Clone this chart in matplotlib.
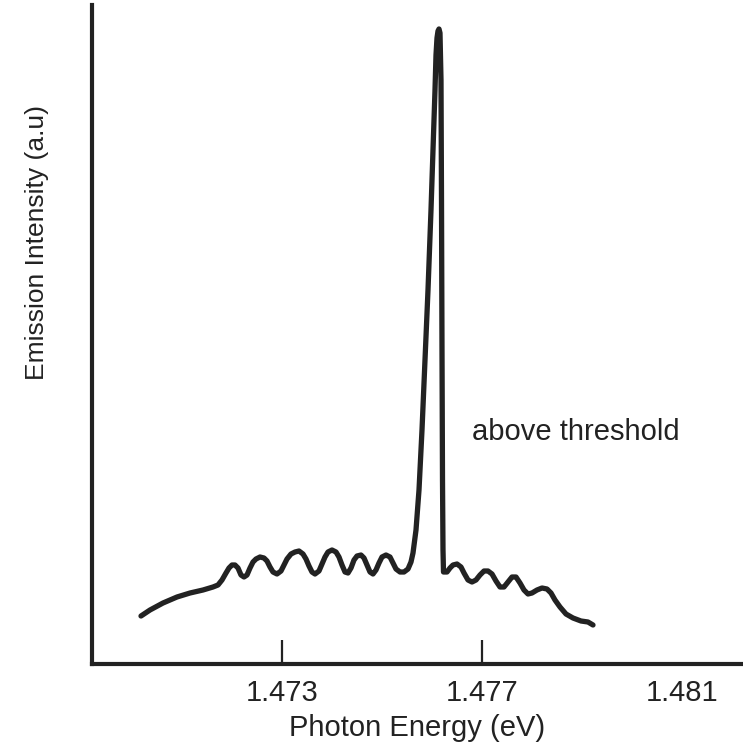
import matplotlib
matplotlib.use("Agg")
import matplotlib.pyplot as plt
from matplotlib.ticker import FixedLocator, NullFormatter

plt.rcParams['font.family'] = ['Liberation Sans', 'DejaVu Sans']

# Photon energy (eV)
energy_rise = [1.47018, 1.47036, 1.47062, 1.47090, 1.47116, 1.47142]
energy_ripples = [
    1.47162, 1.47172, 1.47180, 1.47188, 1.47194, 1.47200, 1.47206, 1.47212, 1.47218, 1.47224,
    1.47230, 1.47236, 1.47242, 1.47248, 1.47256, 1.47264, 1.47270, 1.47276, 1.47282, 1.47290,
    1.47298, 1.47304, 1.47310, 1.47318, 1.47326, 1.47334, 1.47342, 1.47348, 1.47354, 1.47360,
    1.47366, 1.47374, 1.47380, 1.47386, 1.47392, 1.47400, 1.47408, 1.47414, 1.47420, 1.47426,
    1.47432, 1.47438, 1.47444, 1.47450, 1.47458, 1.47464, 1.47470, 1.47476, 1.47482, 1.47488,
    1.47494, 1.47500, 1.47508, 1.47516, 1.47522, 1.47528, 1.47536, 1.47544, 1.47552, 1.47558,
    1.47562,
]
energy_peak = [
    1.47568, 1.47574, 1.47580, 1.47586, 1.47592, 1.47598, 1.47602, 1.47606, 1.47608, 1.47610,
    1.47612, 1.47614, 1.47616, 1.47618, 1.47619, 1.47620, 1.47621, 1.47622, 1.47623,
]
energy_tail = [
    1.47630, 1.47636, 1.47642, 1.47650, 1.47658, 1.47664, 1.47672, 1.47680, 1.47688, 1.47696,
    1.47704, 1.47712, 1.47720, 1.47728, 1.47736, 1.47744, 1.47752, 1.47760, 1.47768, 1.47776,
    1.47784, 1.47792, 1.47800, 1.47810, 1.47820, 1.47830, 1.47838, 1.47846, 1.47856, 1.47868,
    1.47882, 1.47898, 1.47912, 1.47922,
]

# Emission intensity (a.u.)
intensity_rise = [48, 54, 61, 67, 71, 74]
intensity_ripples = [
    77, 79, 84, 91, 96, 99, 99, 96, 89, 87,
    89, 96, 102, 105, 107, 106, 103, 97, 92, 90,
    93, 99, 105, 110, 112, 113, 110, 105, 98, 92,
    90, 93, 100, 107, 112, 114, 112, 107, 99, 92,
    91, 96, 104, 108, 109, 106, 99, 92, 90, 94,
    101, 107, 109, 107, 101, 95, 92, 92, 95, 102,
    111,
]
intensity_peak = [
    134, 174, 234, 304, 374, 454, 514, 574, 609, 626,
    633, 635, 631, 584, 464, 314, 184, 114, 92,
]
intensity_tail = [
    92, 96, 99, 100, 97, 91, 84, 82, 84, 89,
    93, 93, 90, 83, 77, 77, 82, 87, 87, 81,
    74, 70, 71, 74, 76, 75, 71, 64, 57, 50,
    46, 43, 42, 39,
]

energy = energy_rise + energy_ripples + energy_peak + energy_tail
intensity = intensity_rise + intensity_ripples + intensity_peak + intensity_tail

tick_values = [1.473, 1.477, 1.481]
tick_labels = ["1.473", "1.477", "1.481"]
marked_ticks = [1.473, 1.477]

ink = "#222222"

fig = plt.figure(figsize=(7.43, 7.45), dpi=100)
ax = fig.add_axes([92 / 743, 81 / 745, 651 / 743, 659 / 745])

ax.plot(energy, intensity, color=ink, lw=3.8, solid_capstyle='round', solid_joinstyle='round')

ax.set_xlim(1.4692, 1.48222)
ax.set_ylim(0, 659)

for s in ['top', 'right']:
    ax.spines[s].set_visible(False)
for s in ['left', 'bottom']:
    ax.spines[s].set_linewidth(3)
    ax.spines[s].set_color(ink)

ax.xaxis.remove_overlapping_locs = False
ax.set_xticks(tick_values)
ax.set_xticklabels(tick_labels)
ax.xaxis.set_minor_locator(FixedLocator(marked_ticks))
ax.xaxis.set_minor_formatter(NullFormatter())
ax.tick_params(axis='x', which='major', length=0, pad=11, labelsize=21, labelcolor=ink)
ax.tick_params(axis='x', which='minor', direction='in', length=17, width=1.6, color=ink)
ax.set_yticks([])

ax.set_xlabel("Photon Energy (eV)", fontsize=21, color=ink)
ax.xaxis.set_label_coords(0.499, -0.097)
ax.xaxis.label.set_va('center')
ax.set_ylabel("Emission Intensity (a.u)", fontsize=19, color=ink)
ax.yaxis.set_label_coords(-0.0845, 0.639)
ax.yaxis.label.set_va('center')

ax.text(1.4768, 232, "above threshold", fontsize=21, color=ink, ha='left', va='center')

fig.savefig("out.png", dpi=100)
